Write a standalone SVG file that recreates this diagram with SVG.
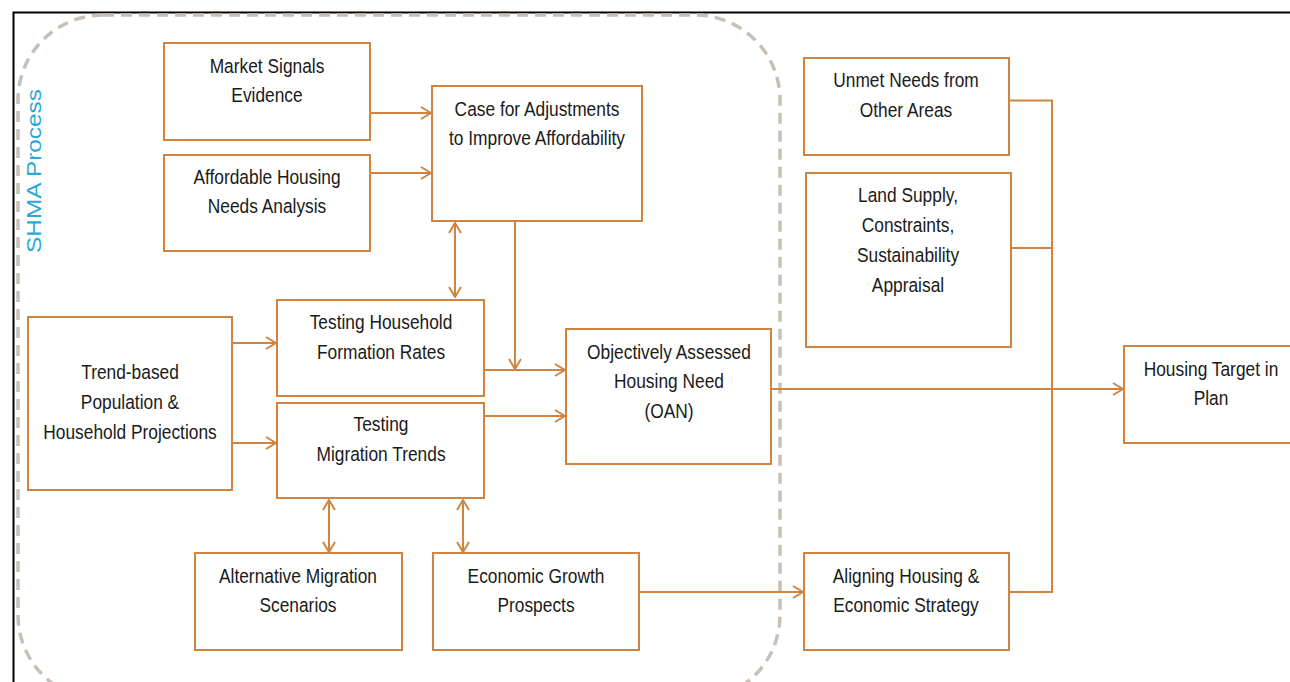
<svg xmlns="http://www.w3.org/2000/svg" width="1290" height="682" viewBox="0 0 1290 682">
<defs>
<style>
.box{fill:#fff;stroke:#d0843f;stroke-width:2}
.t{font-family:"Liberation Sans",Arial,sans-serif;font-size:19.5px;fill:#1a1a1a;text-anchor:middle}
.c{fill:none;stroke:#d0843f;stroke-width:2}
</style>
<marker id="ah" viewBox="0 0 12 14" refX="11" refY="7" markerWidth="12" markerHeight="14" markerUnits="userSpaceOnUse" orient="auto-start-reverse">
<path d="M1,1 L11,7 L1,13" fill="none" stroke="#d0843f" stroke-width="2"/>
</marker>
</defs>
<rect width="1290" height="682" fill="#fff"/>
<path d="M13.5,682 V12.5 H1290" fill="none" stroke="#000" stroke-width="2"/>
<rect x="18" y="15" width="762" height="685" rx="85" ry="85" fill="none" stroke="#c8c0b8" stroke-width="3.5" stroke-dasharray="11,7"/>
<text transform="translate(34 171) rotate(-90) scale(1.22 1)" x="0" y="0" font-family="'Liberation Sans',Arial,sans-serif" font-size="20" fill="#2aa7d6" text-anchor="middle" dominant-baseline="central">SHMA Process</text>

<g id="connectors">
<line class="c" x1="370" y1="113" x2="431" y2="113" marker-end="url(#ah)"/>
<line class="c" x1="370" y1="173" x2="431" y2="173" marker-end="url(#ah)"/>
<line class="c" x1="455" y1="223" x2="455" y2="297" marker-start="url(#ah)" marker-end="url(#ah)"/>
<line class="c" x1="515" y1="221" x2="515" y2="369" marker-end="url(#ah)"/>
<line class="c" x1="484" y1="370" x2="565" y2="370" marker-end="url(#ah)"/>
<line class="c" x1="484" y1="416" x2="565" y2="416" marker-end="url(#ah)"/>
<line class="c" x1="232" y1="343" x2="276" y2="343" marker-end="url(#ah)"/>
<line class="c" x1="232" y1="443" x2="276" y2="443" marker-end="url(#ah)"/>
<line class="c" x1="329" y1="500" x2="329" y2="552" marker-start="url(#ah)" marker-end="url(#ah)"/>
<line class="c" x1="463" y1="500" x2="463" y2="552" marker-start="url(#ah)" marker-end="url(#ah)"/>
<line class="c" x1="639" y1="592" x2="803" y2="592" marker-end="url(#ah)"/>
<line class="c" x1="771" y1="389" x2="1123" y2="389" marker-end="url(#ah)"/>
<path class="c" d="M1009,100.5 H1052 V592 H1009"/>
<line class="c" x1="1011" y1="248" x2="1052" y2="248"/>
</g>

<g id="market-signals"><rect class="box" x="164" y="43" width="206" height="97"/><g transform="translate(267 0) scale(0.89 1)"><text class="t" x="0" y="73">Market Signals</text><text class="t" x="0" y="102">Evidence</text></g></g>
<g id="affordable-housing"><rect class="box" x="164" y="155" width="206" height="96"/><g transform="translate(267 0) scale(0.89 1)"><text class="t" x="0" y="184">Affordable Housing</text><text class="t" x="0" y="213">Needs Analysis</text></g></g>
<g id="case-adjustments"><rect class="box" x="432" y="86" width="210" height="135"/><g transform="translate(537 0) scale(0.89 1)"><text class="t" x="0" y="116">Case for Adjustments</text><text class="t" x="0" y="145">to Improve Affordability</text></g></g>
<g id="testing-household"><rect class="box" x="277" y="300" width="207" height="96"/><g transform="translate(381 0) scale(0.89 1)"><text class="t" x="0" y="329">Testing Household</text><text class="t" x="0" y="359">Formation Rates</text></g></g>
<g id="testing-migration"><rect class="box" x="277" y="403" width="207" height="95"/><g transform="translate(381 0) scale(0.89 1)"><text class="t" x="0" y="431">Testing</text><text class="t" x="0" y="461">Migration Trends</text></g></g>
<g id="trend-based"><rect class="box" x="28" y="317" width="204" height="173"/><g transform="translate(130 0) scale(0.89 1)"><text class="t" x="0" y="379">Trend-based</text><text class="t" x="0" y="409">Population &amp;</text><text class="t" x="0" y="439">Household Projections</text></g></g>
<g id="oan"><rect class="box" x="566" y="329" width="205" height="135"/><g transform="translate(669 0) scale(0.89 1)"><text class="t" x="0" y="359">Objectively Assessed</text><text class="t" x="0" y="388">Housing Need</text><text class="t" x="0" y="418">(OAN)</text></g></g>
<g id="alt-migration"><rect class="box" x="195" y="553" width="207" height="97"/><g transform="translate(298 0) scale(0.89 1)"><text class="t" x="0" y="583">Alternative Migration</text><text class="t" x="0" y="612">Scenarios</text></g></g>
<g id="economic-growth"><rect class="box" x="433" y="553" width="206" height="97"/><g transform="translate(536 0) scale(0.89 1)"><text class="t" x="0" y="583">Economic Growth</text><text class="t" x="0" y="612">Prospects</text></g></g>
<g id="unmet-needs"><rect class="box" x="804" y="58" width="205" height="97"/><g transform="translate(906 0) scale(0.89 1)"><text class="t" x="0" y="87">Unmet Needs from</text><text class="t" x="0" y="117">Other Areas</text></g></g>
<g id="land-supply"><rect class="box" x="806" y="173" width="205" height="174"/><g transform="translate(908 0) scale(0.89 1)"><text class="t" x="0" y="202">Land Supply,</text><text class="t" x="0" y="232">Constraints,</text><text class="t" x="0" y="262">Sustainability</text><text class="t" x="0" y="292">Appraisal</text></g></g>
<g id="housing-target"><rect class="box" x="1124" y="346" width="175" height="97"/><g transform="translate(1211 0) scale(0.89 1)"><text class="t" x="0" y="376">Housing Target in</text><text class="t" x="0" y="405">Plan</text></g></g>
<g id="aligning"><rect class="box" x="804" y="553" width="205" height="97"/><g transform="translate(906 0) scale(0.89 1)"><text class="t" x="0" y="583">Aligning Housing &amp;</text><text class="t" x="0" y="612">Economic Strategy</text></g></g>
</svg>
